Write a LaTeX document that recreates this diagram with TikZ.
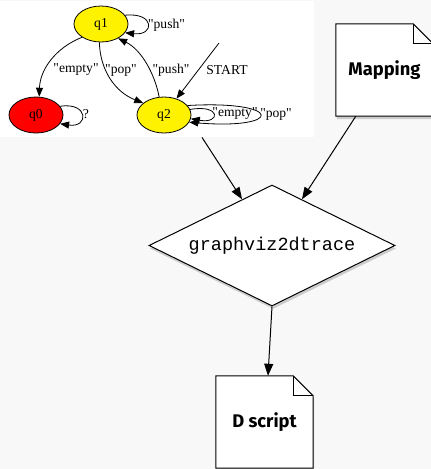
\documentclass[tikz,border=0pt]{standalone}
\usepackage{fontspec}
\setmainfont{Liberation Serif}[Ligatures=TeXOff]
\newfontfamily\docfont{Fira Sans}
\newfontfamily\codefont{Liberation Mono}
\usetikzlibrary{arrows.meta,shapes.geometric,shadows,calc}
\definecolor{canvas}{HTML}{F8F8F8}
\pgfdeclarelayer{back}
\pgfdeclarelayer{mid}
\pgfsetlayers{back,mid,main}
% outline of a document with a folded top-right corner, around node #1
\newcommand\docoutline[1]{%
  \begin{pgfonlayer}{mid}
    \path[docline] (#1.north west) -- ([xshift=-20pt]#1.north east)
      -- ([yshift=-20pt]#1.north east) -- (#1.south east) -- (#1.south west) -- cycle;
    \draw[line width=1pt] ([xshift=-20pt]#1.north east) |- ([yshift=-20pt]#1.north east);
  \end{pgfonlayer}}
\begin{document}
\begin{tikzpicture}[x=1pt,y=1pt,
  state/.style={ellipse,draw,line width=0.8pt,minimum width=54pt,minimum height=36pt,
    inner sep=0pt,font=\fontsize{13.6}{15}\selectfont},
  edge/.style={line width=0.8pt,-{Triangle[length=9pt,width=7pt]}},
  elabel/.style={font=\fontsize{13.6}{15}\selectfont,inner sep=0pt},
  flow/.style={line width=1pt,-{Triangle[length=12pt,width=9pt]}},
  softshadow/.style={drop shadow={shadow xshift=1pt,shadow yshift=-3pt,opacity=0.25,fill=black!70}},
  docbox/.style={minimum width=97pt,minimum height=92pt,inner sep=0pt,
    font=\docfont\bfseries\fontsize{18.3}{20}\selectfont},
  docline/.style={draw,fill=white,line width=1pt,softshadow},
  decision/.style={diamond,draw,fill=white,line width=1pt,aspect=2,inner sep=0pt,
    minimum width=246pt,minimum height=121pt,softshadow,
    font=\codefont\fontsize{18.5}{20}\selectfont},
]
\useasboundingbox (0,0) rectangle (431,-469);
\begin{pgfonlayer}{back}
  \fill[canvas] (0,0) rectangle (431,-469);
\end{pgfonlayer}

% state machine picture
\node[fill=white,inner sep=0pt,minimum width=314pt,minimum height=136pt,anchor=north west]
  (graphimg) at (0,-1) {};
\node[state,fill=yellow] (q1) at (101,-24) {q1};
\node[state,fill=red] (q0) at (36,-115) {q0};
\node[state,fill=yellow] (q2) at (164,-115) {q2};

\draw[edge] (q1.20) .. controls (155,-12) and (155,-36) .. (q1.-20);
\node[elabel] (l1) at (166.5,-25) {"push"};
\draw[edge] (q1.215) .. controls (55,-48) and (40,-70) .. (q0.80);
\node[elabel] (l2) at (76,-70) {"empty"};
\draw[edge] (q1.265) .. controls (100,-70) and (115,-92) .. (q2.150);
\node[elabel] (l3) at (121,-70) {"pop"};
\draw[edge] (q2.105) .. controls (155,-75) and (142,-50) .. (q1.-40);
\node[elabel] (l4) at (171,-70) {"push"};
\coordinate (start) at (219,-43);
\draw[edge] (start) -- (q2);
\node[elabel] (l5) at (227,-70) {START};
\draw[edge] (q0.20) .. controls (89,-102) and (89,-128) .. (q0.-20);
\node[elabel] (l6) at (86,-114) {?};
\draw[edge] (q2.12) .. controls (221,-104) and (221,-124) .. (q2.-8);
\node[elabel] (l7) at (235,-114) {"empty"};
\draw[edge] (q2.22) .. controls (284,-100) and (284,-130) .. (q2.-16);
\node[elabel] (l8) at (276,-114) {"pop"};

% documents and the tool
\node[docbox] (map) at (384.5,-70) {Mapping};
\docoutline{map}
\node[docbox] (dscript) at (264.5,-422) {D script};
\docoutline{dscript}
\node[decision] (tool) at (272,-245.5) {graphviz2dtrace};

\draw[flow] ($(graphimg.south west)+(202,0)$) -- (tool);
\draw[flow] ($(map.south west)+(20,0)$) -- (tool);
\draw[flow] (tool.south) -- ($(dscript.north)+(3.5,0)$);
\end{tikzpicture}
\end{document}
